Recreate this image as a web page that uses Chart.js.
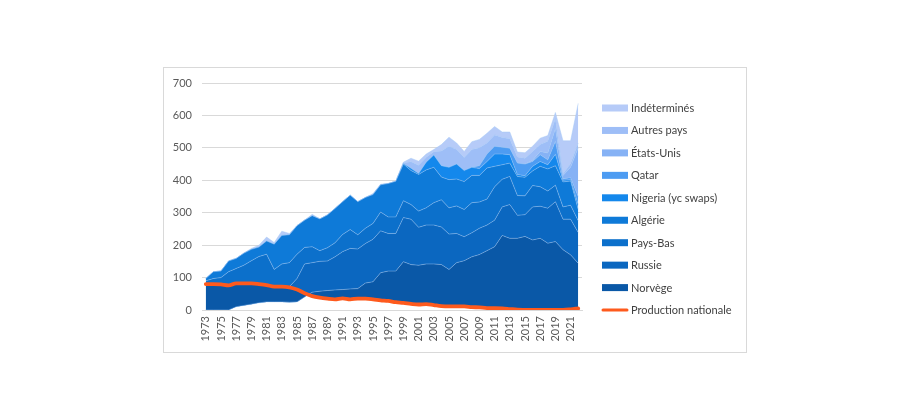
<!DOCTYPE html>
<html>
<head>
<meta charset="utf-8">
<script src="https://cdn.jsdelivr.net/npm/chart.js@4.4.1/dist/chart.umd.min.js"></script>
<style>
  html, body { margin: 0; padding: 0; background: #ffffff; }
  #wrap { position: relative; width: 910px; height: 420px; }
</style>
</head>
<body>
<div id="wrap"><canvas id="c" width="910" height="420"></canvas></div>
<script>
const years = [1973,1974,1975,1976,1977,1978,1979,1980,1981,1982,1983,1984,1985,1986,1987,1988,1989,1990,1991,1992,1993,1994,1995,1996,1997,1998,1999,2000,2001,2002,2003,2004,2005,2006,2007,2008,2009,2010,2011,2012,2013,2014,2015,2016,2017,2018,2019,2020,2021,2022];

const norvege = [0,0,0,0,10,14,18,22,25,25, 25,24,25,40,55,58,60,62,63,65, 66,83,87,115,120,120,149,140,138,142, 142,140,125,146,152,164,171,183,195,230, 221,221,227,216,221,206,211,186,170,144];
const russie = [0,16,16,16,23,31,30,38,43,47, 45,48,72,102,91,92,91,102,117,125, 122,122,131,129,116,116,136,140,117,120, 120,116,109,90,74,74,81,79,82,88, 104,71,67,102,99,108,123,94,110,95];
const paysBas = [90,81,84,102,95,93,104,105,104,53, 72,74,75,51,49,33,41,43,53,58, 44,47,49,58,51,51,52,45,50,53, 69,84,81,85,84,93,81,80,103,85, 87,61,58,66,60,53,51,38,43,36];
const algerie = [7,21,20,33,31,37,35,29,41,78, 88,86,88,84,96,98,101,106,101,106, 102,95,89,84,103,110,113,105,113,117, 109,70,87,83,86,84,82,96,63,45, 41,59,57,45,63,68,60,77,75,35];
const nigeria = [0,0,0,0,0,0,0,0,0,0, 0,0,0,0,0,0,0,0,0,0, 0,0,0,0,0,0,2,7,3,24, 38,35,38,46,34,25,21,20,38,33, 26,6,5,14,15,13,35,5,4,15];
const qatar = [0,0,0,0,0,0,0,0,0,0, 0,0,0,0,0,0,0,0,0,0, 0,0,0,0,0,0,0,0,0,0, 0,0,0,0,0,0,9,23,24,21, 20,35,36,15,21,15,40,5,6,25];
const etatsUnis = [0,0,0,0,0,0,0,0,0,0, 0,0,0,0,0,0,0,0,0,0, 0,0,0,0,0,0,0,0,0,0, 0,0,0,0,0,0,0,0,0,0, 0,0,0,4,10,21,40,10,32,150];
const autresPays = [0,0,0,0,0,0,0,0,0,0, 0,0,0,0,0,0,0,0,0,0, 0,0,0,0,0,0,2,20,25,15, 10,45,65,45,40,55,55,34,35,30, 29,19,18,27,21,36,30,5,12,15];
const indetermines = [0,0,0,0,0,0,3,6,12,5, 13,4,0,0,4,0,0,0,0,0, 0,0,3,2,0,0,2,11,13,10, 7,20,28,20,19,24,26,30,26,17, 21,15,17,16,20,18,19,102,70,122];
const productionNationale = [80,80,79,76,82,82,82,80,77,72, 72,70,63,52,43,38,35,33,36,33, 35,35,33,30,28,24,22,19,17,18, 15,12,11,11,11,9,8,6,6,5, 3,1,0.5,0.3,0.2,0.2,0.2,0.2,2,5];

const yTicks = [0,100,200,300,400,500,600,700];

const areaSeries = [
  { label: 'Norvège', data: norvege, color: '#0a58a7' },
  { label: 'Russie', data: russie, color: '#0b67c0' },
  { label: 'Pays-Bas', data: paysBas, color: '#0c70cb' },
  { label: 'Algérie', data: algerie, color: '#0e7ad8' },
  { label: 'Nigeria (yc swaps)', data: nigeria, color: '#1488ec' },
  { label: 'Qatar', data: qatar, color: '#4d9cf2' },
  { label: 'États-Unis', data: etatsUnis, color: '#86b2f5' },
  { label: 'Autres pays', data: autresPays, color: '#9ebef7' },
  { label: 'Indéterminés', data: indetermines, color: '#b6cbf8' }
];
const lineColor = '#fe5a1d';

const FONT = 'Lato, "Open Sans", sans-serif';
const TXT = '#595959';

const datasets = [{
  type: 'line',
  label: 'Production nationale',
  data: productionNationale,
  borderColor: lineColor,
  backgroundColor: lineColor,
  borderWidth: 3.8,
  pointRadius: 0,
  fill: false,
  stack: 'prod',
  tension: 0.25,
  cubicInterpolationMode: 'monotone',
  borderCapStyle: 'round'
}];
areaSeries.forEach(s => {
  datasets.push({
    type: 'line',
    label: s.label,
    data: s.data,
    backgroundColor: s.color,
    borderColor: 'rgba(160,200,245,0.55)',
    borderWidth: 0.8,
    pointRadius: 0,
    fill: 'stack',
    stack: 'imports',
    tension: 0
  });
});

const legendOrder = ['Indéterminés','Autres pays','États-Unis','Qatar','Nigeria (yc swaps)','Algérie','Pays-Bas','Russie','Norvège','Production nationale'];

const framePlugin = {
  id: 'frame',
  beforeDraw(chart) {
    const ctx = chart.ctx;
    ctx.save();
    ctx.fillStyle = '#ffffff';
    ctx.fillRect(0, 0, chart.width, chart.height);
    ctx.strokeStyle = '#d9d9d9';
    ctx.lineWidth = 1;
    ctx.strokeRect(163.5, 67.5, 583, 285);
    ctx.restore();
  },
  afterDraw(chart) {
    const ctx = chart.ctx;
    ctx.save();
    ctx.font = '11px ' + FONT;
    ctx.textBaseline = 'middle';
    ctx.textAlign = 'left';
    const x0 = 602, sw = 26, tx = 631, y0 = 108, dy = 22.45;
    legendOrder.forEach((lab, i) => {
      const ds = chart.data.datasets.find(d => d.label === lab);
      const y = y0 + i * dy;
      if (ds.fill === false) {
        ctx.strokeStyle = ds.borderColor;
        ctx.lineWidth = 3;
        ctx.lineCap = 'round';
        ctx.beginPath();
        ctx.moveTo(x0 + 1, y);
        ctx.lineTo(x0 + sw - 1, y);
        ctx.stroke();
      } else {
        ctx.fillStyle = ds.backgroundColor;
        ctx.fillRect(x0, y - 3.5, sw, 7);
      }
      ctx.fillStyle = '#404040';
      ctx.fillText(lab, tx, y + 0.5);
    });
    ctx.restore();
  }
};

new Chart(document.getElementById('c'), {
  data: { labels: years.map(String), datasets },
  options: {
    responsive: false,
    animation: false,
    events: [],
    layout: { padding: { left: 162, right: 328, top: 83, bottom: 70 } },
    plugins: { legend: { display: false }, tooltip: { enabled: false } },
    scales: {
      x: {
        type: 'category',
        offset: true,
        stacked: true,
        grid: { display: false, drawTicks: false },
        border: { display: true, color: '#d9d9d9' },
        ticks: {
          autoSkip: false,
          maxRotation: 90,
          minRotation: 90,
          padding: 6,
          color: TXT,
          font: { family: FONT, size: 11 },
          callback: function(v, i) { return i % 2 === 0 ? this.getLabelForValue(v) : ''; }
        },
        afterFit(s) { s.height = 40; }
      },
      y: {
        stacked: true,
        min: 0,
        max: 700,
        afterBuildTicks(s) { s.ticks = yTicks.map(v => ({ value: v })); },
        grid: { color: '#d9d9d9', lineWidth: 1, drawTicks: false },
        border: { display: false },
        ticks: {
          padding: 10,
          color: TXT,
          font: { family: FONT, size: 11 }
        },
        afterFit(s) { s.width = 40; }
      }
    }
  },
  plugins: [framePlugin]
});
</script>
</body>
</html>
